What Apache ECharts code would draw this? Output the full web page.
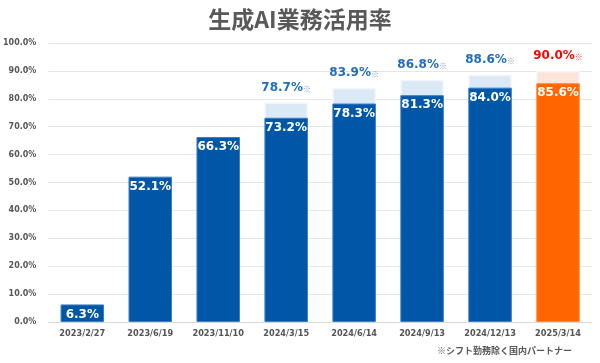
<!DOCTYPE html>
<html><head><meta charset="utf-8">
<script src="https://cdn.jsdelivr.net/npm/echarts@6/dist/echarts.min.js"></script>
<style>html,body{margin:0;padding:0;background:#fff}#c{width:600px;height:363px}</style>
</head><body><div id="c"></div>
<script>
const categories = ['2023/2/27','2023/6/19','2023/11/10','2024/3/15','2024/6/14','2024/9/13','2024/12/13','2025/3/14'];
const usageRate = [6.3, 52.1, 66.3, 73.2, 78.3, 81.3, 84.0, 85.6];
const totalRate = [null, null, null, 78.7, 83.9, 86.8, 88.6, 90.0];
const yTicks = {min: 0, max: 100, interval: 10};
const highlightIndex = 7;

const chart = echarts.init(document.getElementById('c'));
const FONT = '"DejaVu Sans", Verdana, sans-serif';
const mainData = usageRate.map((v, i) => ({
  value: v,
  itemStyle: {color: i === highlightIndex ? '#ff6600' : '#0057a8', borderColor: i === highlightIndex ? '#ff8a3d' : '#3c7cc4', borderWidth: 1}
}));
const bgData = totalRate.map((v, i) => ({
  value: v,
  itemStyle: {color: i === highlightIndex ? '#fde3d8' : '#dbe8f6', borderColor: '#f2f6fc', borderWidth: 1.5},
  label: {rich: {v: {color: i === highlightIndex ? '#ff0000' : '#1f6dbf', fontSize: 12, fontWeight: 'bold', fontFamily: FONT}, m: {color: i === highlightIndex ? '#ff3b3b' : '#86a3c6', fontSize: 8, fontFamily: '"Noto Sans CJK JP"', padding: [3, 0, 0, 0]}}}
}));
chart.setOption({
  animation: false,
  title: {text: '生成AI業務活用率', left: 'center', top: 3, textStyle: {fontFamily: '"Noto Sans CJK JP"', fontWeight: 'bold', fontSize: 23, color: '#595959'}},
  graphic: [{type: 'text', right: 28, top: 346, style: {text: '※シフト勤務除く国内パートナー', fontFamily: '"Noto Sans CJK JP"', fontWeight: 'bold', fontSize: 9, fill: '#595959'}}],
  grid: {left: 43, right: 8, top: 43, bottom: 41},
  xAxis: {type: 'category', data: categories,
    axisLine: {lineStyle: {color: '#d9d9d9'}}, axisTick: {show: false},
    axisLabel: {interval: 0, color: '#555555', fontSize: 8.2, fontWeight: 'bold', fontFamily: FONT, margin: 8}},
  yAxis: {type: 'value', min: yTicks.min, max: yTicks.max, interval: yTicks.interval,
    axisLabel: {color: '#555555', fontSize: 8, fontWeight: 'bold', fontFamily: FONT, margin: 12, formatter: v => v.toFixed(1) + '%'},
    splitLine: {lineStyle: {color: '#e6e6e6'}}},
  series: [
    {type: 'bar', data: bgData, barWidth: '64%', barGap: '-100%', z: 1,
      label: {show: true, position: 'top', distance: 9, formatter: p => '{v|' + p.value.toFixed(1) + '%}{m|※}'}},
    {type: 'bar', data: mainData, barWidth: '64%', z: 2,
      label: {show: true, position: 'insideTop', distance: 4, color: '#fff', fontSize: 12, fontWeight: 'bold', fontFamily: FONT,
        formatter: p => p.value.toFixed(1) + '%'}}
  ]
});
</script></body></html>
